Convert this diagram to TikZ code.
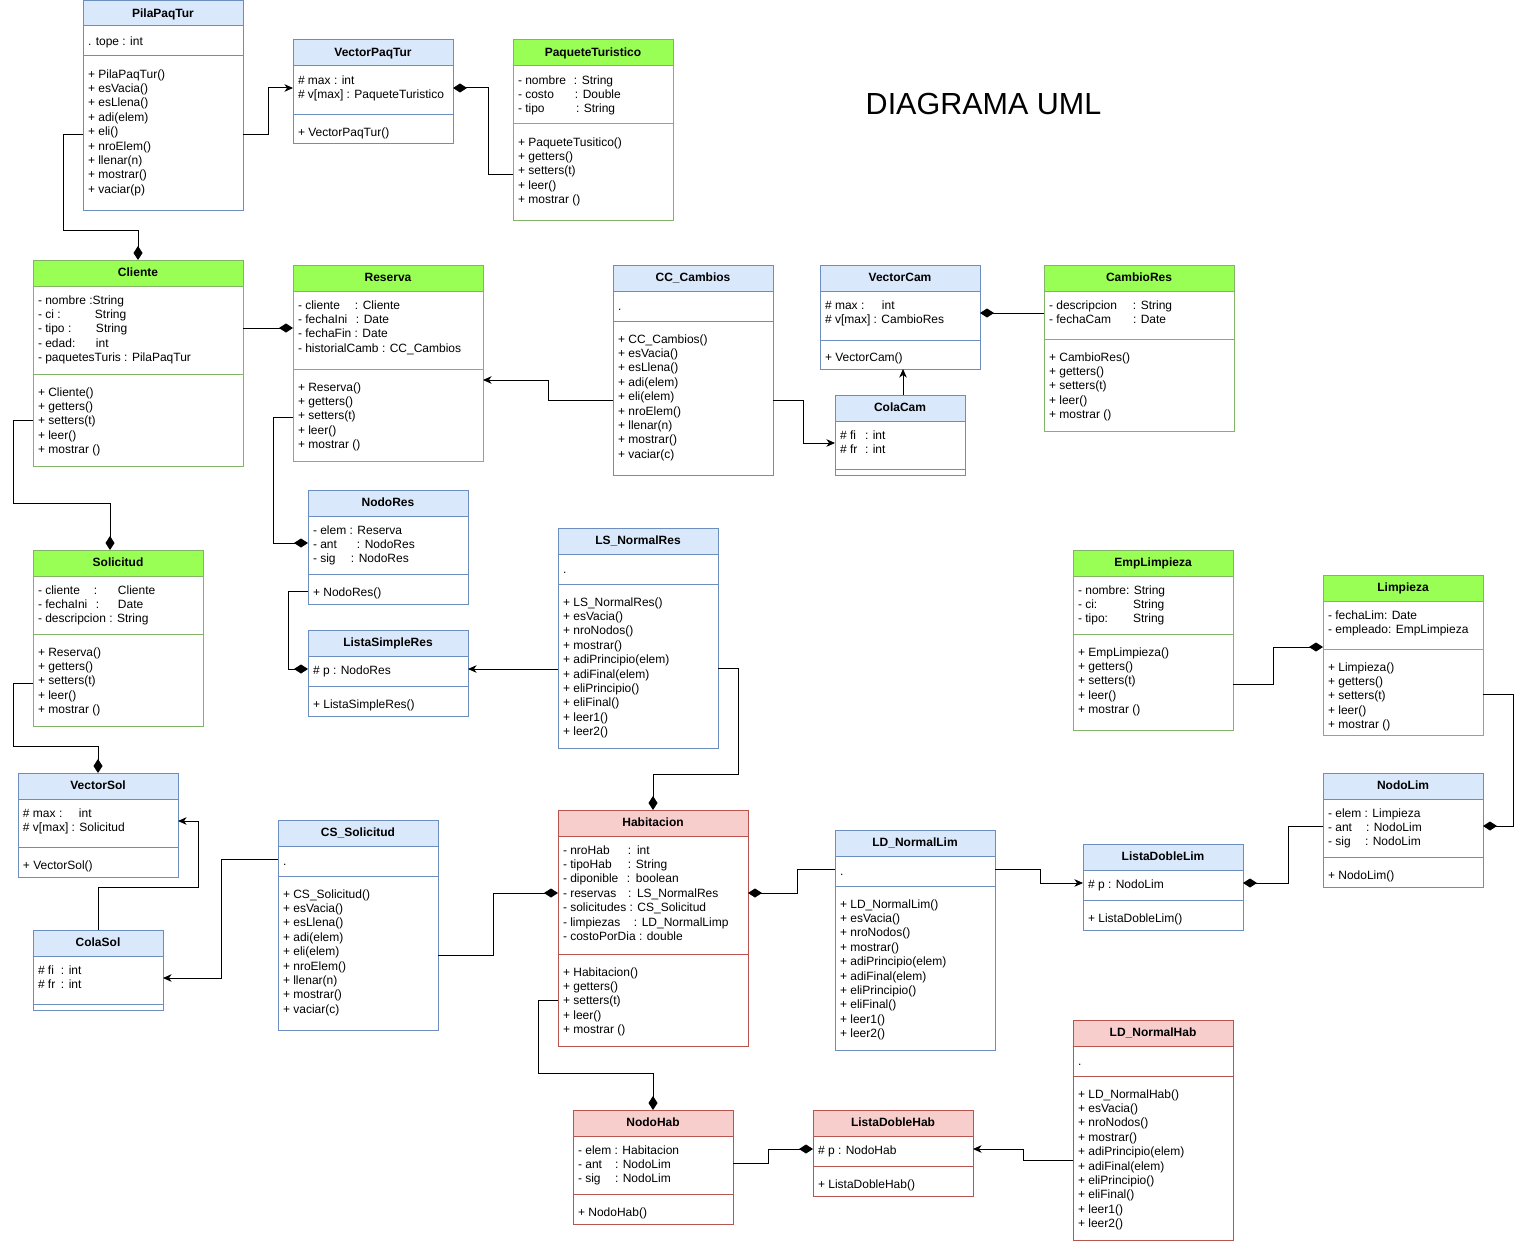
\documentclass[tikz,border=0pt]{standalone}
\usepackage{fontspec}
\setmainfont{Liberation Sans}
\usetikzlibrary{arrows.meta}
\definecolor{blueF}{HTML}{DAE8FC}
\definecolor{blueD}{HTML}{6C8EBF}
\definecolor{greenF}{HTML}{99FF55}
\definecolor{greenD}{HTML}{82B366}
\definecolor{redF}{HTML}{F8CECC}
\definecolor{redD}{HTML}{B85450}
\tikzset{
  boxb/.style={draw=blueD, fill=white, line width=1pt, inner sep=0pt, outer sep=0pt},
  boxg/.style={draw=greenD, fill=white, line width=1pt, inner sep=0pt, outer sep=0pt},
  boxr/.style={draw=redD, fill=white, line width=1pt, inner sep=0pt, outer sep=0pt},
  headb/.style={boxb, fill=blueF},
  headg/.style={boxg, fill=greenF},
  headr/.style={boxr, fill=redF},
  hdtext/.style={font=\fontsize{12}{14.4}\selectfont\bfseries, text height=10.6pt, text depth=3pt},
  lineb/.style={draw=blueD, line width=1pt},
  lineg/.style={draw=greenD, line width=1pt},
  liner/.style={draw=redD, line width=1pt},
  txt/.style={anchor=north west, inner sep=0pt, outer sep=0pt, align=left, font=\fontsize{12}{14.4}\selectfont},
  conn/.style={draw=black, line width=1pt},
  comp/.style={conn, -{Diamond[length=14pt,width=9pt]}},
  arr/.style={conn, -{Stealth[length=8.5pt,width=7.5pt,inset=2.5pt]}},
}
% name, colour, x1, y1, x2, y2, header bottom, divider, title
\newcommand{\umlbox}[9]{%
  \node[box#2, anchor=north west, minimum width={#5-#3}, minimum height={#6-#4}] (#1) at (#3,#4) {};
  \node[head#2, hdtext, anchor=north west, minimum width={#5-#3}, minimum height={#7-#4}] (#1h) at (#3,#4) {#9};
  \draw[line#2] (#3,#8) -- (#5,#8);
}
% name, x, centre y of first line, content
\newcommand{\utxt}[4]{\node[txt] (#1) at (#2,#3-5) {\strut #4};}
\begin{document}
\begin{tikzpicture}[x=1pt,y=-1pt]
\useasboundingbox (0,0) rectangle (1528,1244);
\fill[white] (0,0) rectangle (1528,1244);

\node[font=\fontsize{30.5}{36}\selectfont, inner sep=0pt] (title) at (983.5,104.5) {DIAGRAMA UML};

% PilaPaqTur
\umlbox{pila}{b}{83}{1}{243}{210}{26}{56}{PilaPaqTur}
\utxt{pilaA}{88}{40}{. tope : int}
\utxt{pilaM}{88}{73}{+ PilaPaqTur()\\+ esVacia()\\+ esLlena()\\+ adi(elem)\\+ eli()\\+ nroElem()\\+ llenar(n)\\+ mostrar()\\+ vaciar(p)}

% VectorPaqTur
\umlbox{vpaq}{b}{293}{40}{453}{144}{66}{115}{VectorPaqTur}
\utxt{vpaqA}{298}{79}{\# max : int\\\# v[max] : PaqueteTuristico}
\utxt{vpaqM}{298}{131}{+ VectorPaqTur()}

% PaqueteTuristico
\umlbox{paq}{g}{513}{40}{673}{220}{66}{124}{PaqueteTuristico}
\utxt{paqA}{518}{79}{\makebox[56pt][l]{- nombre}: String\\\makebox[57pt][l]{- costo}: Double\\\makebox[58pt][l]{- tipo}: String}
\utxt{paqM}{518}{141}{+ PaqueteTusitico()\\+ getters()\\+ setters(t)\\+ leer()\\+ mostrar ()}

% Cliente
\umlbox{cliente}{g}{33}{260}{243}{466}{286}{374}{Cliente}
\utxt{clienteA}{38}{299}{- nombre :String\\\makebox[57pt][l]{- ci :}String\\\makebox[58pt][l]{- tipo :}String\\\makebox[58pt][l]{- edad:}int\\- paquetesTuris : PilaPaqTur}
\utxt{clienteM}{38}{391}{+ Cliente()\\+ getters()\\+ setters(t)\\+ leer()\\+ mostrar ()}

% Reserva
\umlbox{reserva}{g}{293}{265}{483}{461}{291}{369}{Reserva}
\utxt{reservaA}{298}{304}{\makebox[57pt][l]{- cliente}: Cliente\\\makebox[58pt][l]{- fechaIni}: Date\\- fechaFin : Date\\- historialCamb : CC\_Cambios}
\utxt{reservaM}{298}{386}{+ Reserva()\\+ getters()\\+ setters(t)\\+ leer()\\+ mostrar ()}

% CC_Cambios
\umlbox{cc}{b}{613}{265}{773}{475}{291}{321}{CC\_Cambios}
\utxt{ccA}{618}{305}{.}
\utxt{ccM}{618}{338}{+ CC\_Cambios()\\+ esVacia()\\+ esLlena()\\+ adi(elem)\\+ eli(elem)\\+ nroElem()\\+ llenar(n)\\+ mostrar()\\+ vaciar(c)}

% VectorCam
\umlbox{vcam}{b}{820}{265}{980}{369}{291}{340}{VectorCam}
\utxt{vcamA}{825}{304}{\makebox[57pt][l]{\# max :}int\\\# v[max] : CambioRes}
\utxt{vcamM}{825}{356}{+ VectorCam()}

% CambioRes
\umlbox{cres}{g}{1044}{265}{1234}{431}{291}{339}{CambioRes}
\utxt{cresA}{1049}{304}{\makebox[84pt][l]{- descripcion}: String\\\makebox[84pt][l]{- fechaCam}: Date}
\utxt{cresM}{1049}{356}{+ CambioRes()\\+ getters()\\+ setters(t)\\+ leer()\\+ mostrar ()}

% ColaCam
\umlbox{colacam}{b}{835}{395}{965}{475}{421}{469}{ColaCam}
\utxt{colacamA}{840}{434}{\makebox[25pt][l]{\# fi}: int\\\makebox[25pt][l]{\# fr}: int}

% NodoRes
\umlbox{nodores}{b}{308}{490}{468}{604}{516}{574}{NodoRes}
\utxt{nodoresA}{313}{529}{- elem : Reserva\\\makebox[44pt][l]{- ant}: NodoRes\\\makebox[38pt][l]{- sig}: NodoRes}
\utxt{nodoresM}{313}{591}{+ NodoRes()}

% ListaSimpleRes
\umlbox{lsres}{b}{308}{630}{468}{716}{656}{686}{ListaSimpleRes}
\utxt{lsresA}{313}{669}{\# p : NodoRes}
\utxt{lsresM}{313}{703}{+ ListaSimpleRes()}

% LS_NormalRes
\umlbox{lsn}{b}{558}{528}{718}{748}{554}{584}{LS\_NormalRes}
\utxt{lsnA}{563}{568}{.}
\utxt{lsnM}{563}{601}{+ LS\_NormalRes()\\+ esVacia()\\+ nroNodos()\\+ mostrar()\\+ adiPrincipio(elem)\\+ adiFinal(elem)\\+ eliPrincipio()\\+ eliFinal()\\+ leer1()\\+ leer2()}

% Solicitud
\umlbox{sol}{g}{33}{550}{203}{726}{576}{634}{Solicitud}
\utxt{solA}{38}{589}{\makebox[56pt][l]{- cliente}\makebox[24pt][l]{:}Cliente\\\makebox[58pt][l]{- fechaIni}\makebox[22pt][l]{:}Date\\- descripcion : String}
\utxt{solM}{38}{651}{+ Reserva()\\+ getters()\\+ setters(t)\\+ leer()\\+ mostrar ()}

% EmpLimpieza
\umlbox{emp}{g}{1073}{550}{1233}{730}{576}{634}{EmpLimpieza}
\utxt{empA}{1078}{589}{- nombre: String\\\makebox[55pt][l]{- ci:}String\\\makebox[55pt][l]{- tipo:}String}
\utxt{empM}{1078}{651}{+ EmpLimpieza()\\+ getters()\\+ setters(t)\\+ leer()\\+ mostrar ()}

% Limpieza
\umlbox{limp}{g}{1323}{575}{1483}{735}{601}{649}{Limpieza}
\utxt{limpA}{1328}{614}{- fechaLim: Date\\- empleado: EmpLimpieza}
\utxt{limpM}{1328}{666}{+ Limpieza()\\+ getters()\\+ setters(t)\\+ leer()\\+ mostrar ()}

% NodoLim
\umlbox{nodolim}{b}{1323}{773}{1483}{887}{799}{857}{NodoLim}
\utxt{nodolimA}{1328}{812}{- elem : Limpieza\\\makebox[38pt][l]{- ant}: NodoLim\\\makebox[37pt][l]{- sig}: NodoLim}
\utxt{nodolimM}{1328}{874}{+ NodoLim()}

% ListaDobleLim
\umlbox{ldlim}{b}{1083}{844}{1243}{930}{870}{900}{ListaDobleLim}
\utxt{ldlimA}{1088}{883}{\# p : NodoLim}
\utxt{ldlimM}{1088}{917}{+ ListaDobleLim()}

% VectorSol
\umlbox{vsol}{b}{18}{773}{178}{877}{799}{847}{VectorSol}
\utxt{vsolA}{23}{812}{\makebox[56pt][l]{\# max :}int\\\# v[max] : Solicitud}
\utxt{vsolM}{23}{864}{+ VectorSol()}

% ColaSol
\umlbox{colasol}{b}{33}{930}{163}{1010}{956}{1004}{ColaSol}
\utxt{colasolA}{38}{969}{\makebox[23pt][l]{\# fi}: int\\\makebox[23pt][l]{\# fr}: int}

% CS_Solicitud
\umlbox{cssol}{b}{278}{820}{438}{1030}{846}{876}{CS\_Solicitud}
\utxt{cssolA}{283}{860}{.}
\utxt{cssolM}{283}{893}{+ CS\_Solicitud()\\+ esVacia()\\+ esLlena()\\+ adi(elem)\\+ eli(elem)\\+ nroElem()\\+ llenar(n)\\+ mostrar()\\+ vaciar(c)}

% Habitacion
\umlbox{hab}{r}{558}{810}{748}{1046}{836}{954}{Habitacion}
\utxt{habA}{563}{849}{\makebox[65pt][l]{- nroHab}\makebox[9pt][l]{:}int\\\makebox[65pt][l]{- tipoHab}\makebox[8pt][l]{:}String\\\makebox[64pt][l]{- diponible}\makebox[9pt][l]{:}boolean\\\makebox[65pt][l]{- reservas}\makebox[9pt][l]{:}LS\_NormalRes\\- solicitudes : CS\_Solicitud\\\makebox[71pt][l]{- limpiezas}: LD\_NormalLimp\\- costoPorDia : double}
\utxt{habM}{563}{971}{+ Habitacion()\\+ getters()\\+ setters(t)\\+ leer()\\+ mostrar ()}

% LD_NormalLim
\umlbox{ldnl}{b}{835}{830}{995}{1050}{856}{886}{LD\_NormalLim}
\utxt{ldnlA}{840}{870}{.}
\utxt{ldnlM}{840}{903}{+ LD\_NormalLim()\\+ esVacia()\\+ nroNodos()\\+ mostrar()\\+ adiPrincipio(elem)\\+ adiFinal(elem)\\+ eliPrincipio()\\+ eliFinal()\\+ leer1()\\+ leer2()}

% LD_NormalHab
\umlbox{ldnh}{r}{1073}{1020}{1233}{1240}{1046}{1076}{LD\_NormalHab}
\utxt{ldnhA}{1078}{1060}{.}
\utxt{ldnhM}{1078}{1093}{+ LD\_NormalHab()\\+ esVacia()\\+ nroNodos()\\+ mostrar()\\+ adiPrincipio(elem)\\+ adiFinal(elem)\\+ eliPrincipio()\\+ eliFinal()\\+ leer1()\\+ leer2()}

% NodoHab
\umlbox{nodohab}{r}{573}{1110}{733}{1224}{1136}{1194}{NodoHab}
\utxt{nodohabA}{578}{1149}{- elem : Habitacion\\\makebox[37pt][l]{- ant}: NodoLim\\\makebox[37pt][l]{- sig}: NodoLim}
\utxt{nodohabM}{578}{1211}{+ NodoHab()}

% ListaDobleHab
\umlbox{ldhab}{r}{813}{1110}{973}{1196}{1136}{1166}{ListaDobleHab}
\utxt{ldhabA}{818}{1149}{\# p : NodoHab}
\utxt{ldhabM}{818}{1183}{+ ListaDobleHab()}

% ---------- connectors ----------
\draw[arr] (pila.east |- 0,135) -- (268,135) -- (268,88) -- (vpaq.west |- 0,88);
\draw[comp] (paq.west |- 0,174) -- (488,174) -- (488,88) -- (vpaq.east |- 0,88);
\draw[comp] (pila.west |- 0,135) -- (63,135) -- (63,230) -- (138,230) -- (cliente.north);
\draw[comp] (cliente.east |- 0,328) -- (reserva.west |- 0,328);
\draw[arr] (cc.west |- 0,400) -- (548,400) -- (548,380) -- (reserva.east |- 0,380);
\draw[arr] (cc.east |- 0,400) -- (803,400) -- (803,443) -- (colacam.west |- 0,443);
\draw[arr] (colacam.north -| 903,0) -- (vcam.south -| 903,0);
\draw[comp] (cres.west |- 0,313) -- (vcam.east |- 0,313);
\draw[comp] (reserva.west |- 0,417) -- (273,417) -- (273,543) -- (nodores.west |- 0,543);
\draw[comp] (nodores.west |- 0,591) -- (288,591) -- (288,669) -- (lsres.west |- 0,669);
\draw[arr] (lsn.west |- 0,669) -- (lsres.east |- 0,669);
\draw[comp] (lsn.east |- 0,668) -- (738,668) -- (738,774) -- (653,774) -- (hab.north);
\draw[comp] (cliente.west |- 0,420) -- (13,420) -- (13,503) -- (110,503) -- (sol.north -| 110,0);
\draw[comp] (sol.west |- 0,683) -- (13,683) -- (13,746) -- (98,746) -- (vsol.north);
\draw[arr] (colasol.north) -- (98,887) -- (198,887) -- (198,821) -- (vsol.east |- 0,821);
\draw[arr] (cssol.west |- 0,859) -- (221,859) -- (221,978) -- (colasol.east |- 0,978);
\draw[comp] (cssol.east |- 0,955) -- (493,955) -- (493,893) -- (hab.west |- 0,893);
\draw[comp] (ldnl.west |- 0,869) -- (797,869) -- (797,893) -- (hab.east |- 0,893);
\draw[arr] (ldnl.east |- 0,869) -- (1040,869) -- (1040,883) -- (ldlim.west |- 0,883);
\draw[comp] (nodolim.west |- 0,826) -- (1288,826) -- (1288,883) -- (ldlim.east |- 0,883);
\draw[comp] (limp.east |- 0,694) -- (1513,694) -- (1513,826) -- (nodolim.east |- 0,826);
\draw[comp] (emp.east |- 0,684) -- (1273,684) -- (1273,647) -- (limp.west |- 0,647);
\draw[comp] (hab.west |- 0,1000) -- (538,1000) -- (538,1073) -- (653,1073) -- (nodohab.north);
\draw[comp] (nodohab.east |- 0,1163) -- (768,1163) -- (768,1149) -- (ldhab.west |- 0,1149);
\draw[arr] (ldnh.west |- 0,1160) -- (1023,1160) -- (1023,1149) -- (ldhab.east |- 0,1149);
\end{tikzpicture}
\end{document}
